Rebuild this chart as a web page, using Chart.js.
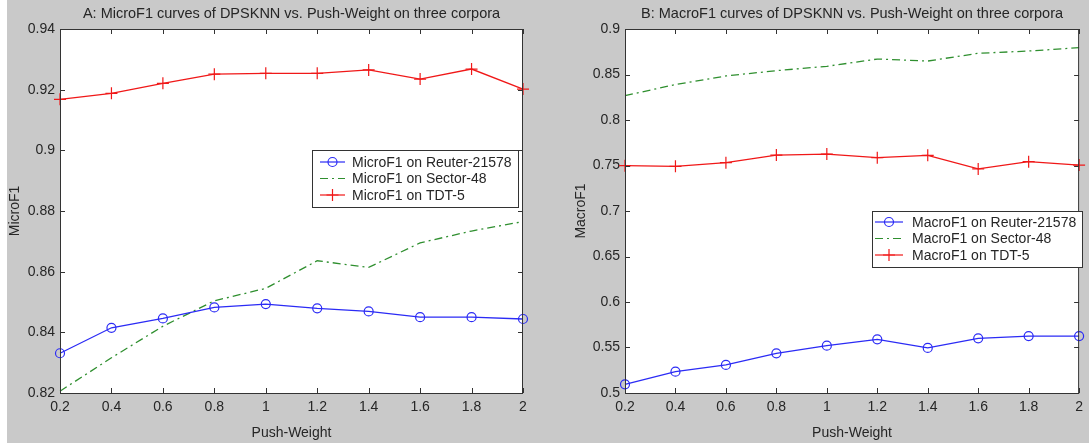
<!DOCTYPE html>
<html>
<head>
<meta charset="utf-8">
<script src="https://cdn.jsdelivr.net/npm/chart.js@4.4.1/dist/chart.umd.min.js"></script>
<style>
  html, body { margin: 0; padding: 0; background: #fff; }
  #wrap { position: relative; width: 1089px; height: 446px; overflow: hidden; }
  #bg { position: absolute; left: 7px; top: 0; width: 1082px; height: 443px; background: #c9c9c9; }
  canvas { position: absolute; top: 0; }
</style>
</head>
<body>
<div id="wrap">
  <div id="bg"></div>
  <canvas id="microChart" width="545" height="446" style="left:0"></canvas>
  <canvas id="macroChart" width="544" height="446" style="left:545px"></canvas>
</div>
<script>
// values
const pushWeight = [0.2, 0.4, 0.6, 0.8, 1.0, 1.2, 1.4, 1.6, 1.8, 2.0];

const microReuter = [0.8331, 0.8415, 0.8446, 0.8482, 0.8493, 0.8479, 0.8469, 0.8450, 0.8450, 0.8444];
const microSector = [0.8206, 0.8316, 0.8420, 0.8504, 0.8545, 0.8636, 0.8614, 0.8695, 0.8734, 0.8765];
const microTDT    = [0.9168, 0.9188, 0.9221, 0.9251, 0.9254, 0.9254, 0.9265, 0.9235, 0.9268, 0.9202];

const macroReuter = [0.5095, 0.5234, 0.5308, 0.5436, 0.5520, 0.5590, 0.5495, 0.5601, 0.5626, 0.5626];
const macroSector = [0.8267, 0.8390, 0.8484, 0.8542, 0.8590, 0.8670, 0.8648, 0.8733, 0.8758, 0.8795];
const macroTDT    = [0.7498, 0.7491, 0.7531, 0.7615, 0.7626, 0.7586, 0.7612, 0.7462, 0.7542, 0.7505];

const microLabels = ['MicroF1 on Reuter-21578', 'MicroF1 on Sector-48', 'MicroF1 on TDT-5'];
const macroLabels = ['MacroF1 on Reuter-21578', 'MacroF1 on Sector-48', 'MacroF1 on TDT-5'];

const FONT = '"Liberation Sans", Arial, sans-serif';
const TEXT = '#262626';
Chart.defaults.font.family = FONT;
Chart.defaults.color = TEXT;

const BLUE = '#2b2bf5', GREEN = '#2f8f2f', RED = '#f01818';

const fmt = v => String(Number(v.toFixed(3)));

function xy(values) {
    return pushWeight.map((x, i) => ({ x: x, y: values[i] }));
}

function drawMarker(ctx, style, x, y, color) {
    ctx.save();
    ctx.strokeStyle = color;
    ctx.lineWidth = 1.2;
    ctx.setLineDash([]);
    ctx.beginPath();
    if (style === 'circle') {
        ctx.arc(x, y, 4.5, 0, Math.PI * 2);
    } else if (style === 'cross') {
        ctx.moveTo(x - 6, y); ctx.lineTo(x + 6, y);
        ctx.moveTo(x, y - 6); ctx.lineTo(x, y + 6);
    }
    ctx.stroke();
    ctx.restore();
}

// matlab look: white axes, closed box, inward ticks, title and inner legend
const matlabPlugin = {
    id: 'matlab',
    beforeDraw(chart) {
        const { ctx, chartArea: a } = chart;
        ctx.save();
        ctx.fillStyle = '#fff';
        ctx.fillRect(a.left, a.top, a.right - a.left, a.bottom - a.top);
        ctx.restore();
    },
    afterDraw(chart, args, opts) {
        const { ctx, chartArea: a, scales } = chart;
        ctx.save();
        ctx.strokeStyle = '#333';
        ctx.lineWidth = 1;
        ctx.setLineDash([]);
        ctx.strokeRect(a.left + 0.5, a.top + 0.5, a.right - a.left - 1, a.bottom - a.top);
        ctx.beginPath();
        scales.x.ticks.forEach(t => {
            const px = Math.round(scales.x.getPixelForValue(t.value)) + 0.5;
            ctx.moveTo(px, a.bottom); ctx.lineTo(px, a.bottom - 5);
            ctx.moveTo(px, a.top); ctx.lineTo(px, a.top + 5);
        });
        scales.y.ticks.forEach(t => {
            const py = Math.round(scales.y.getPixelForValue(t.value)) + 0.5;
            ctx.moveTo(a.left, py); ctx.lineTo(a.left + 5, py);
            ctx.moveTo(a.right, py); ctx.lineTo(a.right - 5, py);
        });
        ctx.stroke();

        // title
        ctx.fillStyle = TEXT;
        ctx.font = '14.5px ' + FONT;
        ctx.textAlign = 'center';
        ctx.textBaseline = 'middle';
        ctx.fillText(opts.title, (a.left + a.right) / 2, 14);

        // legend
        const lg = opts.legend;
        ctx.fillStyle = '#fff';
        ctx.fillRect(lg.x, lg.y, lg.w, lg.h);
        ctx.strokeStyle = '#333';
        ctx.strokeRect(lg.x + 0.5, lg.y + 0.5, lg.w, lg.h);
        ctx.font = '14px ' + FONT;
        ctx.textAlign = 'left';
        chart.data.datasets.forEach((ds, i) => {
            const y = lg.row0 + i * lg.rowGap;
            ctx.save();
            ctx.strokeStyle = ds.borderColor;
            ctx.lineWidth = 1.2;
            ctx.setLineDash(ds.borderDash || []);
            ctx.beginPath();
            ctx.moveTo(lg.s0, y); ctx.lineTo(lg.s1, y);
            ctx.stroke();
            ctx.restore();
            if (ds.pointRadius > 0) drawMarker(ctx, ds.pointStyle, (lg.s0 + lg.s1) / 2, y, ds.borderColor);
            ctx.fillStyle = TEXT;
            ctx.fillText(ds.label, lg.tx, y + 1);
        });
        ctx.restore();
    }
};

function makeChart(id, labels, series, yMin, yMax, yStep, yTitle, cfg) {
    const styles = [
        { color: BLUE, point: 'circle', radius: 4.5, dash: [] },
        { color: GREEN, point: false, radius: 0, dash: [8, 4, 2, 4] },
        { color: RED, point: 'cross', radius: 6, dash: [] }
    ];
    return new Chart(document.getElementById(id), {
        type: 'line',
        data: {
            datasets: series.map((s, i) => ({
                label: labels[i],
                data: xy(s),
                borderColor: styles[i].color,
                backgroundColor: 'transparent',
                borderWidth: 1.3,
                borderDash: styles[i].dash,
                pointStyle: styles[i].point,
                pointRadius: styles[i].radius,
                pointHoverRadius: styles[i].radius,
                pointBorderWidth: 1.2,
                pointBorderColor: styles[i].color,
                pointBackgroundColor: 'transparent',
                tension: 0,
                clip: false
            }))
        },
        options: {
            responsive: false,
            animation: false,
            events: [],
            layout: { padding: { left: 0, right: cfg.padRight, top: 29, bottom: 0 } },
            scales: {
                x: {
                    type: 'linear',
                    min: 0.2, max: 2,
                    afterFit: s => { s.height = 53; },
                    grid: { display: false, drawTicks: false },
                    border: { display: false },
                    ticks: { stepSize: 0.2, padding: 6, maxRotation: 0, autoSkip: false,
                             font: { size: 14 }, color: TEXT, callback: fmt },
                    title: { display: true, text: 'Push-Weight', font: { size: 14 }, color: TEXT,
                             padding: { top: 0, bottom: 4 } }
                },
                y: {
                    min: yMin, max: yMax,
                    afterFit: s => { s.width = cfg.yWidth; },
                    grid: { display: false, drawTicks: false },
                    border: { display: false },
                    ticks: { stepSize: yStep, padding: 5, autoSkip: false,
                             font: { size: 14 }, color: TEXT, callback: fmt },
                    title: { display: true, text: yTitle, font: { size: 14 }, color: TEXT,
                             padding: { top: cfg.yTitlePad, bottom: 0 } }
                }
            },
            plugins: {
                legend: { display: false },
                tooltip: { enabled: false },
                matlab: { title: cfg.title, legend: cfg.legend }
            }
        },
        plugins: [matlabPlugin]
    });
}

makeChart('microChart', microLabels, [microReuter, microSector, microTDT], 0.82, 0.94, 0.02, 'MicroF1', {
    padRight: 22, yWidth: 60, yTitlePad: 7,
    title: 'A: MicroF1 curves of DPSKNN vs. Push-Weight on three corpora',
    legend: { x: 312, y: 150, w: 206, h: 57, row0: 162, rowGap: 16.5, s0: 320, s1: 345, tx: 352 }
});

makeChart('macroChart', macroLabels, [macroReuter, macroSector, macroTDT], 0.5, 0.9, 0.05, 'MacroF1', {
    padRight: 2, yWidth: 80, yTitlePad: 28,
    title: 'B: MacroF1 curves of DPSKNN vs. Push-Weight on three corpora',
    legend: { x: 327, y: 211, w: 210, h: 56, row0: 222, rowGap: 16.5, s0: 330, s1: 358, tx: 367 }
});
</script>
</body>
</html>
